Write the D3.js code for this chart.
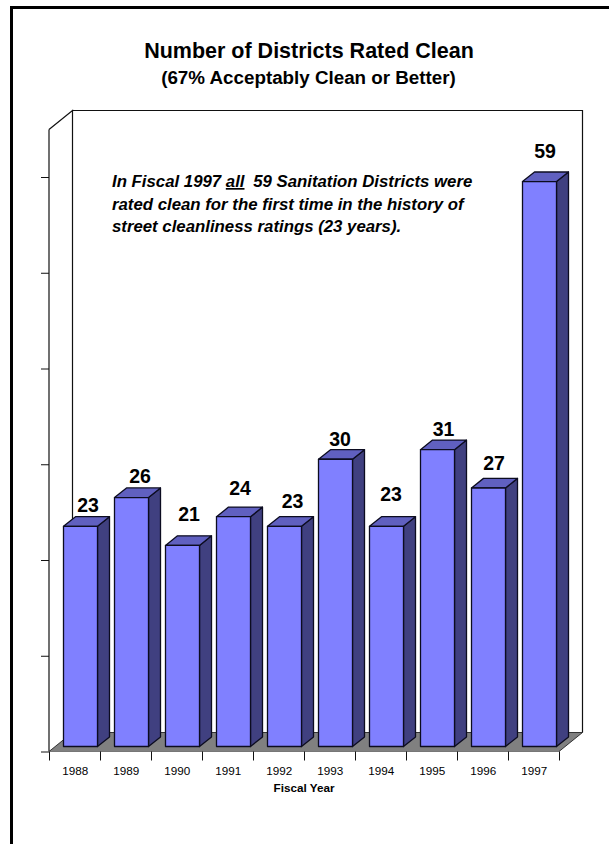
<!DOCTYPE html>
<html>
<head>
<meta charset="utf-8">
<script src="https://cdn.jsdelivr.net/npm/d3@7"></script>
<style>
html,body{margin:0;padding:0;background:#fff;}
svg{display:block;}
text{font-family:"Liberation Sans",Arial,sans-serif;fill:#000;}
</style>
</head>
<body>
<svg id="c" width="609" height="844"></svg>
<script>
const years = ["1988","1989","1990","1991","1992","1993","1994","1995","1996","1997"];
const districts = [23,26,21,24,23,30,23,31,27,59];
const yTicks = [0,10,20,30,40,50,60];
const labelLift = [14.7,15,24.8,21.8,18.4,13.4,25.4,14,18,24];
const labelShift = [7.5,8.5,6.5,6.5,8,4.5,4.5,6,5.5,5.5];
const titleText = "Number of Districts Rated Clean";
const subtitleText = "(67% Acceptably Clean or Better)";
const xTitle = "Fiscal Year";

const svg = d3.select("#c");
const x0=49, x1=559, yBase=751.5, yTop=177, wallDx=23.5, wallDy=19, wallTop=110.5;
const x = d3.scaleBand().domain(years).range([x0,x1]).paddingInner(1/3).paddingOuter(1/6);
const y = d3.scaleLinear().domain([0,60]).range([yBase,yTop]);

// page frame (top and left only)
svg.append("path").attr("d","M11.5,844V7.5H609").attr("fill","none").attr("stroke","#000").attr("stroke-width",3);

// title
svg.append("text").attr("x",309).attr("y",57.7).attr("text-anchor","middle")
  .attr("font-weight","bold").attr("font-size",21.5).text(titleText);
svg.append("text").attr("x",308.5).attr("y",83.5).attr("text-anchor","middle")
  .attr("font-weight","bold").attr("font-size",18.8).text(subtitleText);

// walls
const ink = "#111";
svg.append("path")
  .attr("d",`M${x0+wallDx},${wallTop}H${x1+wallDx}V${yBase-wallDy}`)
  .attr("fill","none").attr("stroke",ink).attr("stroke-width",1.2);
svg.append("path")
  .attr("d",`M${x0},${wallTop+wallDy}L${x0+wallDx},${wallTop}V${yBase-wallDy}`)
  .attr("fill","none").attr("stroke",ink).attr("stroke-width",1.2);

// floor
svg.append("polygon")
  .attr("points",[[x0,yBase],[x0+wallDx,yBase-wallDy],[x1+wallDx,yBase-wallDy],[x1,yBase]].join(" "))
  .attr("fill","#808080").attr("stroke",ink).attr("stroke-width",0.8);

// axes
const yAxis = d3.axisLeft(y).tickValues(yTicks).tickSize(8).tickFormat("");
const gy = svg.append("g").attr("transform",`translate(${x0},0)`).call(yAxis);
gy.select(".domain").attr("d",`M0,${yBase}V${wallTop+wallDy}`).attr("stroke",ink).attr("stroke-width",1.2);
gy.selectAll("line").attr("stroke",ink).attr("stroke-width",1);

const edges = d3.scaleLinear().domain([0,years.length]).range([x0,x1]);
const xAxis = d3.axisBottom(edges).tickValues(d3.range(years.length+1)).tickSize(9).tickFormat("");
const gx = svg.append("g").attr("transform",`translate(0,${yBase})`).call(xAxis);
gx.select(".domain").attr("d",`M${x0},0H${x1}`).attr("stroke","#777").attr("stroke-width",1);
gx.selectAll("line").attr("stroke",ink).attr("stroke-width",1);

svg.append("g").selectAll("text").data(years).join("text")
  .attr("x",d=>x(d)+x.bandwidth()/2+0.7).attr("y",775)
  .attr("text-anchor","middle").attr("font-size",11.7).attr("fill","#111").text(d=>d);

svg.append("text").attr("x",304).attr("y",791.7).attr("text-anchor","middle")
  .attr("font-weight","bold").attr("font-size",11.7).text(xTitle);

// bars
const dx=12, dy=9.6, offX=6, offY=5;
const bars = svg.append("g").selectAll("g").data(years).join("g");
const bl = d=>x(d)+offX, br = d=>bl(d)+x.bandwidth(), base=yBase-offY;
const barTop = (d,i)=>y(districts[i])-offY;
const stroke = s=>s.attr("stroke","#0c0c20").attr("stroke-width",1.3).attr("stroke-linejoin","round");
bars.append("polygon")
  .attr("points",(d,i)=>[[br(d),barTop(d,i)],[br(d)+dx,barTop(d,i)-dy],[br(d)+dx,base-dy],[br(d),base]].join(" "))
  .attr("fill","#404080").call(stroke);
bars.append("polygon")
  .attr("points",(d,i)=>[[bl(d),barTop(d,i)],[bl(d)+dx,barTop(d,i)-dy],[br(d)+dx,barTop(d,i)-dy],[br(d),barTop(d,i)]].join(" "))
  .attr("fill","#6060c0").call(stroke);
bars.append("rect")
  .attr("x",bl).attr("y",barTop).attr("width",x.bandwidth()).attr("height",(d,i)=>base-barTop(d,i))
  .attr("fill","#8080ff").call(stroke);

// value labels
svg.append("g").selectAll("text").data(years).join("text")
  .attr("x",(d,i)=>x(d)+offX+x.bandwidth()/2+labelShift[i])
  .attr("y",(d,i)=>barTop(d,i)-labelLift[i])
  .attr("text-anchor","middle").attr("font-weight","bold").attr("font-size",19.5)
  .text((d,i)=>districts[i]);

// annotation
const note = svg.append("g").attr("font-weight","bold").attr("font-style","italic").attr("font-size",16.8);
const t1 = note.append("text").attr("x",112).attr("y",187);
t1.append("tspan").text("In Fiscal 1997 ");
t1.append("tspan").attr("text-decoration","underline").text("all");
t1.append("tspan").attr("dx",4).text(" 59 Sanitation Districts were");
note.append("text").attr("x",112).attr("y",209.7).text("rated clean for the first time in the history of");
note.append("text").attr("x",112).attr("y",232).text("street cleanliness ratings (23 years).");
</script>
</body>
</html>
